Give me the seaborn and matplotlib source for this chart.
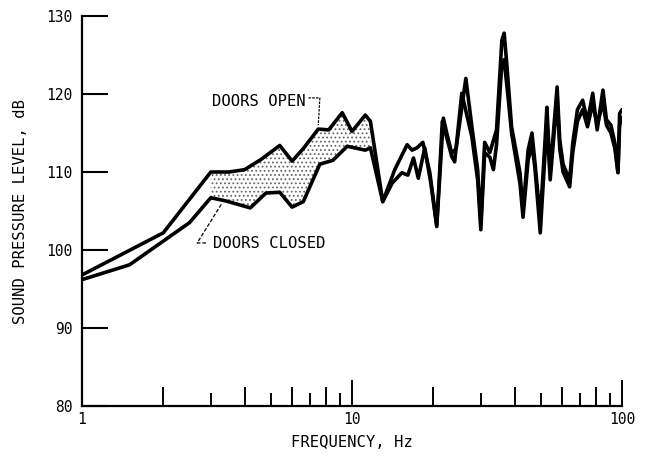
import numpy as np
import pandas as pd
import matplotlib
matplotlib.use("Agg")
import matplotlib.pyplot as plt
import seaborn as sns

# Measured spectra: sound pressure level vs frequency
freq_open = [1.0, 2.0, 3.0, 3.5, 4.0, 4.6, 5.4, 6.0, 6.6, 7.5, 8.2, 9.2, 10.0,
             11.2, 11.7, 13.0, 14.4, 16.0, 16.7, 17.4, 18.3, 19.4, 20.6, 21.8,
             22.4, 23.4, 24.3, 26.4, 27.8, 29.2, 30.0, 31.0, 32.4, 34.3, 35.9,
             36.6, 37.4, 39.0, 41.9, 43.0, 44.9, 46.4, 47.6, 49.8, 51.9, 52.7,
             54.2, 57.5, 58.8, 60.5, 64.0, 65.7, 68.4, 71.5, 74.5, 77.9, 80.9,
             85.0, 87.6, 91.0, 94.1, 96.6, 98.0, 100.0]
spl_open = [96.8, 102.2, 110.0, 110.0, 110.3, 111.6, 113.4, 111.4, 113.0, 115.5,
            115.4, 117.6, 115.2, 117.3, 116.5, 106.2, 110.3, 113.5, 112.8, 113.1,
            113.8, 110.0, 103.2, 116.9, 115.1, 112.4, 113.0, 122.0, 115.8, 110.3,
            103.5, 113.8, 112.5, 115.4, 126.9, 127.8, 124.0, 115.8, 109.9, 105.0,
            112.8, 115.0, 111.2, 104.0, 114.1, 118.3, 109.9, 120.9, 114.1, 111.0,
            109.0, 113.7, 118.0, 119.2, 116.5, 120.1, 115.4, 120.5, 116.7, 116.0,
            113.7, 110.0, 117.5, 118.0]

freq_closed = [1.0, 1.5, 2.5, 3.0, 3.4, 4.2, 4.8, 5.4, 6.0, 6.6, 7.6, 8.5, 9.6,
               11.2, 11.7, 13.0, 14.1, 15.3, 16.1, 16.9, 17.6, 18.6, 19.6, 20.6,
               21.6, 22.4, 23.4, 24.0, 25.5, 27.8, 29.2, 30.0, 31.0, 32.4, 33.4,
               34.3, 35.9, 36.6, 38.0, 39.0, 41.9, 43.0, 44.9, 46.4, 47.6, 49.8,
               51.9, 52.7, 54.2, 57.5, 58.8, 60.5, 64.0, 65.7, 68.4, 71.5, 74.5,
               77.9, 80.9, 85.0, 87.6, 91.0, 94.1, 96.6, 98.0, 100.0]
spl_closed = [96.2, 98.1, 103.5, 106.7, 106.3, 105.4, 107.3, 107.4, 105.5, 106.2,
              111.0, 111.5, 113.3, 112.8, 113.1, 106.2, 108.6, 109.9, 109.6, 111.8,
              109.2, 113.1, 108.5, 103.0, 116.5, 114.5, 112.0, 111.3, 120.1, 114.5,
              109.0, 102.6, 112.5, 111.9, 110.3, 113.5, 124.0, 124.4, 119.0, 115.0,
              108.5, 104.2, 111.5, 113.5, 110.5, 102.2, 112.5, 116.5, 109.0, 119.5,
              113.0, 110.0, 108.1, 112.5, 116.5, 118.0, 115.8, 118.8, 116.0, 119.0,
              116.0, 115.0, 113.0, 109.9, 116.0, 117.0]

# Band where the two configurations separate
band_lo, band_hi = 3.0, 11.7

y_ticks = [80, 90, 100, 110, 120, 130]
x_major = [1, 10, 100]
x_major_labels = ["1", "10", "100"]
x_even = [2, 4, 6, 8, 20, 40, 60, 80]
x_odd = [3, 5, 7, 9, 30, 50, 70, 90]

sns.set_theme(style="white")
font = ["DejaVu Sans Mono", "DejaVu Sans"]
plt.rcParams["font.family"] = font
plt.rcParams["hatch.linewidth"] = 0.8

fig = plt.figure(figsize=(6.51, 4.57), dpi=100)
ax = fig.add_axes([82 / 651, 1 - 406 / 457, 540 / 651, 390 / 457])

df_open = pd.DataFrame({"freq": freq_open, "spl": spl_open})
df_closed = pd.DataFrame({"freq": freq_closed, "spl": spl_closed})

# Stippled band between the two curves
grid = np.logspace(np.log10(band_lo), np.log10(band_hi), 300)
up = np.interp(np.log10(grid), np.log10(freq_open), spl_open)
lo = np.interp(np.log10(grid), np.log10(freq_closed), spl_closed)
ax.fill_between(grid, lo, up, facecolor="none", edgecolor="0.4",
                hatch="....", linewidth=0)

sns.lineplot(data=df_open, x="freq", y="spl", color="black", lw=2.6,
             estimator=None, sort=False, ax=ax)
sns.lineplot(data=df_closed, x="freq", y="spl", color="black", lw=2.6,
             estimator=None, sort=False, ax=ax)

ax.set_xscale("log")
ax.set_xlim(1, 100)
ax.set_ylim(80, 130)

for side in ["top", "right"]:
    ax.spines[side].set_visible(False)
for side in ["left", "bottom"]:
    ax.spines[side].set_color("black")
    ax.spines[side].set_linewidth(1.6)

ax.set_yticks(y_ticks)
ax.set_yticklabels([str(v) for v in y_ticks])
ax.set_xticks(x_major)
ax.set_xticklabels(x_major_labels)
ax.set_xticks(x_even, minor=True)
ax.xaxis.set_minor_formatter(matplotlib.ticker.NullFormatter())
ax.tick_params(axis="y", direction="in", length=19, width=1.5, color="black",
               pad=7, labelsize=10.5, labelcolor="black", left=True)
ax.tick_params(axis="x", which="major", direction="in", length=19, width=1.4,
               color="black", pad=4, labelsize=10.5, labelcolor="black", bottom=True)
ax.tick_params(axis="x", which="minor", direction="in", length=13.5, width=1.4,
               color="black", bottom=True)
# shorter ticks at the odd values
ax.vlines(x_odd, 0, 13 / 390, transform=ax.get_xaxis_transform(),
          color="black", lw=1.4, clip_on=False)

for lbl in ax.get_xticklabels() + ax.get_yticklabels():
    lbl.set_family(font)

txt = 11.2
ax.set_xlabel("FREQUENCY, Hz", fontsize=txt, family=font, color="black", labelpad=6)
ax.set_ylabel("SOUND PRESSURE LEVEL, dB", fontsize=txt, family=font,
              color="black", labelpad=13)

# Annotations with leader lines
ax.text(3.03, 119.1, "DOORS OPEN", fontsize=txt, family=font, color="black",
        va="center", ha="left")
ax.plot([6.9, 7.6, 7.5], [119.5, 119.5, 116.0], color="black", lw=0.9,
        ls=(0, (2, 1)))
ax.text(3.06, 100.8, "DOORS CLOSED", fontsize=txt, family=font, color="black",
        va="center", ha="left")
ax.plot([2.88, 2.67, 3.3], [100.9, 100.9, 106.0], color="black", lw=0.9,
        ls=(0, (3, 1.5)))

fig.savefig("out.png", dpi=100)
